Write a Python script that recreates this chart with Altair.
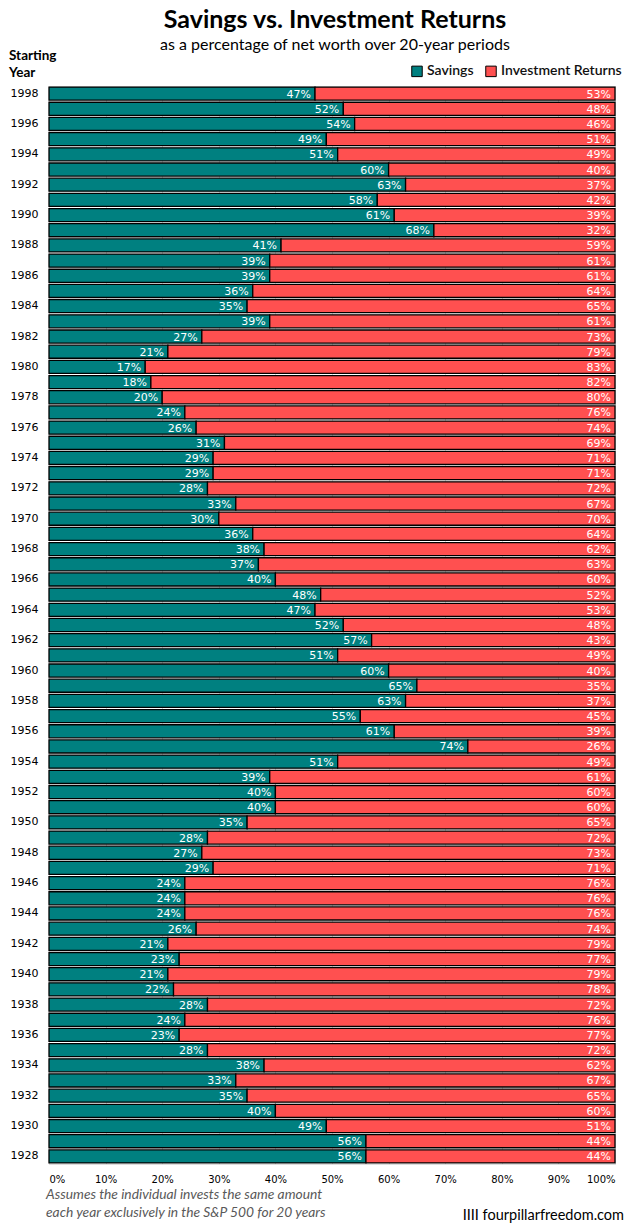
import altair as alt
import pandas as pd

years = list(range(1998, 1927, -1))
savings = [47, 52, 54, 49, 51, 60, 63, 58, 61, 68,
           41, 39, 39, 36, 35, 39, 27, 21, 17, 18,
           20, 24, 26, 31, 29, 29, 28, 33, 30, 36,
           38, 37, 40, 48, 47, 52, 57, 51, 60, 65,
           63, 55, 61, 74, 51, 39, 40, 40, 35, 28,
           27, 29, 24, 24, 24, 26, 21, 23, 21, 22,
           28, 24, 23, 28, 38, 33, 35, 40, 49, 56, 56]
investment = [100 - s for s in savings]
series_names = ["Savings", "Investment Returns"]
series_colors = ["#008080", "#FF5050"]
x_ticks = [0, 10, 20, 30, 40, 50, 60, 70, 80, 90, 100]

rows = []
for y, s, i in zip(years, savings, investment):
    rows.append({"year": str(y), "series": "Savings", "start": 0, "end": s, "label": f"{s}%"})
    rows.append({"year": str(y), "series": "Investment Returns", "start": s, "end": s + i, "label": f"{i}%"})
df = pd.DataFrame(rows)

W, H = 566, 1078
year_order = [str(y) for y in years]
even_years = [str(y) for y in years if y % 2 == 0]

yenc = alt.Y("year:N", sort=year_order,
             scale=alt.Scale(domain=year_order, paddingInner=0.14, paddingOuter=0.07),
             axis=alt.Axis(title=None, values=even_years, ticks=False, domain=False,
                           labelPadding=11, labelFont="DejaVu Sans", labelFontSize=11,
                           labelColor="#000000", grid=False))

base = alt.Chart(df)
bars = base.mark_bar(stroke="#000000", strokeWidth=1.3).encode(
    x=alt.X("start:Q", scale=alt.Scale(domain=[0, 100], nice=False),
            axis=alt.Axis(title=None, values=x_ticks, labelExpr="datum.value + '%'",
                          ticks=False, domain=False, grid=True, gridColor="#d9d9d9",
                          labelPadding=10, labelFont="DejaVu Sans", labelFontSize=10,
                          labelColor="#000000")),
    x2="end:Q",
    y=yenc,
    color=alt.Color("series:N",
                    scale=alt.Scale(domain=series_names, range=series_colors),
                    legend=alt.Legend(title=None, orient="none", legendX=361, legendY=-22,
                                      direction="horizontal", symbolType="square",
                                      symbolSize=110, symbolStrokeColor="#000000",
                                      symbolStrokeWidth=1, symbolOpacity=1,
                                      labelFont="Lato", labelFontSize=14,
                                      labelFontWeight=600, labelColor="#111111",
                                      columnPadding=9, labelOffset=3)),
)
labels = base.mark_text(align="right", baseline="middle", dx=-4, dy=1, color="white",
                        font="DejaVu Sans", fontSize=11).encode(
    x=alt.X("end:Q"), y=alt.Y("year:N", sort=year_order), text="label:N")

one = pd.DataFrame({"a": [0]})

def txt(s, x, y, size, weight="normal", style="normal", color="#000000", align="left", font="Lato"):
    return alt.Chart(one).mark_text(text=s, align=align, baseline="middle", fontSize=size,
                                    fontWeight=weight, fontStyle=style, color=color,
                                    font=font).encode(x=alt.value(x), y=alt.value(y))

title = txt("Savings vs. Investment Returns", 286, -66, 25, weight="bold", align="center")
subtitle = txt("as a percentage of net worth over 20-year periods", 286, -41, 16, align="center")
start1 = txt("Starting", -40, -30, 13.5, weight="bold")
start2 = txt("Year", -40, -13, 13.5, weight="bold")
foot1 = txt("Assumes the individual  invests the same amount", -3, 1109, 13.8, style="italic", color="#595959")
foot2 = txt("each year exclusively in the S&P 500 for 20 years", -3, 1127, 13.8, style="italic", color="#595959")
src = txt("IIII fourpillarfreedom.com", 575, 1130, 14.5, align="right")

chart = alt.layer(bars, labels, title, subtitle, start1, start2, foot1, foot2, src).properties(
    width=W, height=H,
    autosize=alt.AutoSizeParams(type="none"),
    padding={"left": 49, "top": 86, "right": 29, "bottom": 67},
).configure_view(stroke=None).configure(background="white")

chart.save("out.html", embed_options={"renderer": "svg", "actions": False})
